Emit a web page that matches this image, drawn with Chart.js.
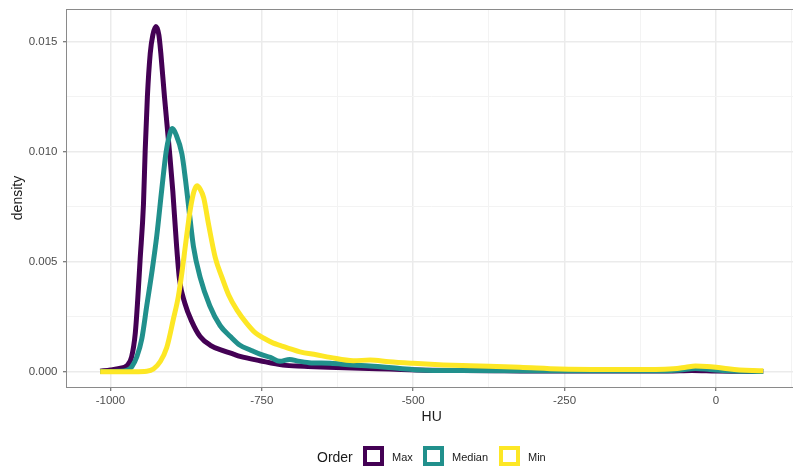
<!DOCTYPE html>
<html>
<head>
<meta charset="utf-8">
<script src="https://cdn.jsdelivr.net/npm/chart.js@4.4.1/dist/chart.umd.min.js"></script>
<style>
  html, body { margin: 0; padding: 0; background: #ffffff; overflow: hidden; }
  #wrap { position: relative; width: 793px; height: 468px; overflow: hidden; background: #fff; }
  #c { position: absolute; left: 0; top: 0; }
  #legend { position: absolute; left: 0; top: 0; width: 793px; height: 468px; pointer-events: none;
            font-family: "Liberation Sans", Arial, Helvetica, sans-serif; }
  .lt { position: absolute; color: #1a1a1a; white-space: nowrap; line-height: 1; }
  .lbox { position: absolute; width: 21px; height: 20px; box-sizing: border-box; border: 4px solid; background: #fff; }
</style>
</head>
<body>
<div id="wrap">
  <canvas id="c" width="800" height="468" style="width:800px;height:468px"></canvas>
  <div id="legend"></div>
</div>
<script>
// ---- Data ----
const seriesNames = ['Max', 'Median', 'Min'];
const seriesColors = ['#440154', '#21908C', '#FDE725'];

const maxHU = [-1017,-1000,-985,-973,-965,-959,-955,-951,-945.5,-942.7,-939,-934.3,-930,-925,-920,-916.8,-910.9,-902.6,-897,-891,-886,-877,-866,-852,-835,-813,-797,-786,-753,-715,-680,-640,-600,-560,-520,-480,-420,-350,-250,-150,-80,-40,0,40,78];
const maxDensity = [0.00002,0.00008,0.00015,0.00027,0.00068,0.00175,0.00326,0.0051,0.0076,0.0100,0.0125,0.01447,0.0153,0.01569,0.0153,0.01447,0.01253,0.01003,0.0082,0.0058,0.0042,0.0031,0.0023,0.0016,0.0012,0.00095,0.0008,0.0007,0.0005,0.0003,0.00025,0.0002,0.00017,0.00014,0.0001,0.00007,0.00005,0.00004,0.00003,0.00003,0.00003,0.00005,0.00003,0.00002,0.00001];

const medianHU = [-1017,-985,-973,-964.7,-956.4,-948.2,-940,-931.7,-923.4,-915.2,-908,-903,-897.7,-892,-882,-876,-870,-863,-852,-836,-819,-802,-786,-770,-753,-736,-720,-704,-690,-672,-637,-600,-571.6,-522,-489,-420,-300,-200,-100,-60,-34,-10,20,50,78];
const medianDensity = [0.00001,0.00002,0.00006,0.00023,0.00068,0.0015,0.0030,0.0045,0.0062,0.0083,0.0100,0.0107,0.01105,0.0108,0.0099,0.0087,0.0073,0.0057,0.0043,0.0030,0.0021,0.0016,0.0012,0.0010,0.0008,0.00065,0.00047,0.00056,0.00048,0.00041,0.00038,0.0003,0.00026,0.00015,0.00008,0.00005,0.00004,0.00004,0.00004,0.00008,0.00015,0.0001,0.00004,0.00002,0.00001];

const minHU = [-1017,-960,-940,-929,-918,-907,-896,-888,-882,-875,-868,-862,-857,-852,-846,-838,-827,-816,-805,-791,-775,-760,-745,-731,-720,-703,-687,-660,-637,-599,-571,-540,-500,-450,-406,-324,-258,-180,-100,-70,-50,-34,-15,0,20,39,60,78];
const minDensity = [0,0,0.00002,0.00012,0.00045,0.0011,0.0024,0.0034,0.0045,0.006,0.0074,0.0082,0.00845,0.0083,0.0079,0.0067,0.0052,0.0043,0.0035,0.0028,0.0022,0.00175,0.0015,0.0013,0.0012,0.00104,0.0009,0.00077,0.00065,0.0005,0.00053,0.00045,0.00038,0.00031,0.00027,0.0002,0.00012,0.0001,0.0001,0.00013,0.0002,0.00026,0.00024,0.0002,0.00013,0.00008,0.00005,0.00004];

const xMajorTicks = [-1000, -750, -500, -250, 0];
const xTickLabels = ['-1000', '-750', '-500', '-250', '0'];
const xMinorTicks = [-875, -625, -375, -125, 125];
const yMajorTicks = [0, 0.005, 0.010, 0.015];
const yTickLabels = ['0.000', '0.005', '0.010', '0.015'];
const yMinorTicks = [0.0025, 0.0075, 0.0125];

const xTitle = 'HU';
const yTitle = 'density';
const legendTitle = 'Order';

// ---- Build datasets ----
function pts(xs, ys) { return xs.map((x, i) => ({ x: x, y: ys[i] })); }
const seriesX = [maxHU, medianHU, minHU];
const seriesY = [maxDensity, medianDensity, minDensity];
const datasets = seriesNames.map((name, i) => ({
  label: name,
  data: pts(seriesX[i], seriesY[i]),
  borderColor: seriesColors[i],
  backgroundColor: seriesColors[i],
  borderWidth: 5,
  pointRadius: 0,
  fill: false,
  cubicInterpolationMode: 'monotone',
  borderCapStyle: 'butt',
  borderJoinStyle: 'round',
  order: 2 - i
}));

const FONT = '"Liberation Sans", Arial, Helvetica, sans-serif';
const isMajorX = v => xMajorTicks.indexOf(v) >= 0;
const isMajorY = v => yMajorTicks.some(t => Math.abs(t - v) < 1e-9);

const panelBorder = {
  id: 'panelBorder',
  afterDatasetsDraw(chart) {
    const { ctx, chartArea: a } = chart;
    ctx.save();
    ctx.strokeStyle = '#8a8a8a';
    ctx.lineWidth = 1;
    ctx.strokeRect(Math.round(a.left) - 0.5, Math.round(a.top) + 0.5, Math.round(a.right - a.left) + 1, Math.round(a.bottom - a.top));
    ctx.restore();
  }
};

new Chart(document.getElementById('c'), {
  type: 'line',
  data: { datasets: datasets },
  plugins: [panelBorder],
  options: {
    responsive: false,
    animation: false,
    devicePixelRatio: 1,
    layout: { padding: { left: 0, right: 3.6, top: 9, bottom: 44 } },
    plugins: { legend: { display: false }, tooltip: { enabled: false } },
    scales: {
      x: {
        type: 'linear',
        min: -1071.75,
        max: 132.75,
        afterBuildTicks: s => { s.ticks = xMinorTicks.concat(xMajorTicks).sort((a, b) => a - b).map(v => ({ value: v })); },
        afterFit: s => { s.height = 37; s.paddingLeft = 0; s.paddingRight = 0; },
        border: { display: false },
        grid: {
          color: c => (c.tick && isMajorX(c.tick.value)) ? '#ebebeb' : '#f3f3f3',
          lineWidth: c => (c.tick && isMajorX(c.tick.value)) ? 1.5 : 1,
          tickColor: c => (c.tick && isMajorX(c.tick.value)) ? '#555555' : 'rgba(0,0,0,0)',
          tickLength: 4,
          tickWidth: 1
        },
        ticks: {
          autoSkip: false,
          maxRotation: 0,
          padding: 3,
          color: '#4d4d4d',
          font: { family: FONT, size: 11.5 },
          callback: v => { const k = xMajorTicks.indexOf(v); return k >= 0 ? xTickLabels[k] : ''; }
        },
        title: {
          display: true,
          text: xTitle,
          color: '#1a1a1a',
          font: { family: FONT, size: 14, lineHeight: 1 },
          padding: { top: 0, bottom: 0 }
        }
      },
      y: {
        type: 'linear',
        min: -0.000695,
        max: 0.016486,
        afterBuildTicks: s => { s.ticks = yMinorTicks.concat(yMajorTicks).sort((a, b) => a - b).map(v => ({ value: v })); },
        afterFit: s => { s.width = 67; s.paddingTop = 0; s.paddingBottom = 0; },
        border: { display: false },
        grid: {
          color: c => (c.tick && isMajorY(c.tick.value)) ? '#ebebeb' : '#f3f3f3',
          lineWidth: c => (c.tick && isMajorY(c.tick.value)) ? 1.5 : 1,
          tickColor: c => (c.tick && isMajorY(c.tick.value)) ? '#555555' : 'rgba(0,0,0,0)',
          tickLength: 4,
          tickWidth: 1
        },
        ticks: {
          autoSkip: false,
          padding: 5.5,
          color: '#4d4d4d',
          font: { family: FONT, size: 11.5 },
          callback: v => { const k = yMajorTicks.findIndex(t => Math.abs(t - v) < 1e-9); return k >= 0 ? yTickLabels[k] : ''; }
        },
        title: {
          display: true,
          text: yTitle,
          color: '#1a1a1a',
          font: { family: FONT, size: 14, lineHeight: 1 },
          padding: { top: 11, bottom: 0 }
        }
      }
    }
  }
});

// ---- Legend (ggplot style, bottom) ----
const lg = document.getElementById('legend');
function addText(txt, left, top, size) {
  const d = document.createElement('div');
  d.className = 'lt'; d.textContent = txt;
  d.style.left = left + 'px'; d.style.top = top + 'px'; d.style.fontSize = size + 'px';
  lg.appendChild(d);
}
function addBox(color, left, top) {
  const d = document.createElement('div');
  d.className = 'lbox'; d.style.borderColor = color;
  d.style.left = left + 'px'; d.style.top = top + 'px';
  lg.appendChild(d);
}
addText(legendTitle, 317, 450, 14);
const boxLefts = [363, 423, 499];
const textLefts = [392, 452, 528];
seriesNames.forEach((n, i) => {
  addBox(seriesColors[i], boxLefts[i], 446);
  addText(n, textLefts[i], 451.5, 11);
});
</script>
</body>
</html>
